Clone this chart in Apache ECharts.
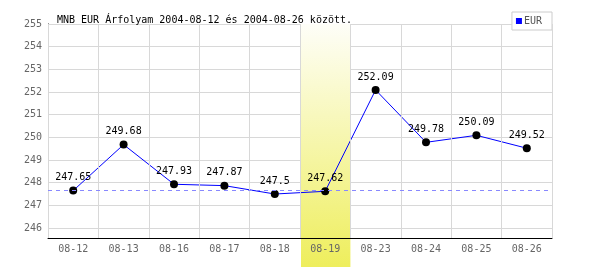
<!DOCTYPE html>
<html>
<head>
<meta charset="utf-8">
<script src="https://cdn.jsdelivr.net/npm/echarts@6/dist/echarts.min.js"></script>
<style>html,body{margin:0;padding:0;background:#fff}#c{width:600px;height:270px}</style>
</head>
<body>
<div id="c"></div>
<script>
const titleText = 'MNB EUR Árfolyam 2004-08-12 és 2004-08-26 között.';
const seriesName = 'EUR';
const categories = ['08-12','08-13','08-16','08-17','08-18','08-19','08-23','08-24','08-25','08-26'];
const values = [247.65, 249.68, 247.93, 247.87, 247.5, 247.62, 252.09, 249.78, 250.09, 249.52];
const yTicks = [246,247,248,249,250,251,252,253,254,255];
const refValue = 247.65;
const highlightCat = '08-19';
const yMin = 245.56, yMax = 255;

const chart = echarts.init(document.getElementById('c'), null, {renderer:'canvas'});
const mono = 'DejaVu Sans Mono';
chart.setOption({
  animation:false,
  backgroundColor:'#ffffff',
  title:{text:titleText, left:52, top:10, textStyle:{fontFamily:mono, fontSize:10, fontWeight:'normal', color:'#000'}},
  legend:{data:[{name:seriesName, itemStyle:{color:'#0000ff'}}], right:48, top:12, icon:'rect', itemWidth:6, itemHeight:6, itemGap:2,
    backgroundColor:'#fff', borderColor:'#cccccc', borderWidth:1, padding:[4,10,4,4],
    textStyle:{fontFamily:mono, fontSize:10, color:'#555', padding:[0,0,0,-3]}},
  grid:{left:48, right:48, top:24, bottom:32},
  xAxis:{type:'category', data:categories, boundaryGap:true, z:4,
    axisLine:{lineStyle:{color:'#000', width:1}}, axisTick:{show:false},
    axisLabel:{fontFamily:mono, fontSize:10, color:'#666', margin:6},
    splitLine:{show:true, lineStyle:{color:'#d8d8d8', width:1}}},
  yAxis:{type:'value', min:yMin, max:yMax, splitNumber:9, z:0,
    axisLine:{show:true, lineStyle:{color:'#000', width:1}}, axisTick:{show:false},
    axisLabel:{fontFamily:mono, fontSize:10, color:'#666', margin:6, showMinLabel:true,
      formatter:v => yTicks.some(t => Math.abs(t - v) < 1e-6) ? String(Math.round(v)) : ''},
    splitLine:{show:true, lineStyle:{color:'#d8d8d8', width:1}}},
  series:[
    {type:'line', name:'ref', data:[], z:1, silent:true,
      markLine:{silent:true, symbol:'none', label:{show:false},
        lineStyle:{color:'#8888ff', type:[4,4], width:1}, data:[{yAxis:refValue}]}},
    {type:'custom', name:'band', z:2, silent:true, data:[[highlightCat]], encode:{x:0},
      renderItem:function(params, api){
        const p = api.coord([api.value(0), yMax]);
        const w = api.size([1,0])[0];
        const cs = params.coordSys;
        const top = cs.y;
        const bottom = api.getHeight() - 3;
        return {type:'rect', shape:{x:p[0]-w/2+1, y:top, width:w-1, height:bottom-top},
          style:{fill:new echarts.graphic.LinearGradient(0,0,0,1,[{offset:0,color:'#fefef8'},{offset:1,color:'#eeee5c'}])}};
      }},
    {type:'line', name:seriesName, data:values, z:3,
      symbol:'circle', symbolSize:8, showAllSymbol:true,
      itemStyle:{color:'#000'}, lineStyle:{color:'#0000ff', width:1},
      label:{show:true, position:'top', distance:4, fontFamily:mono, fontSize:10, color:'#000'}}
  ]
});
</script>
</body>
</html>
